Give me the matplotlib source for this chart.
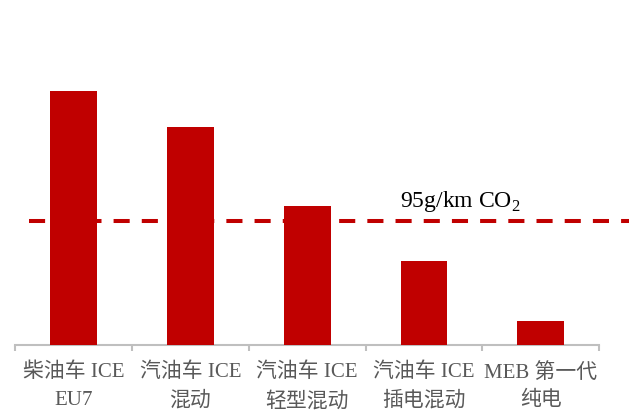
import matplotlib
matplotlib.use("Agg")
import matplotlib.pyplot as plt

plt.rcParams['font.family'] = ['Liberation Serif', 'Noto Sans CJK SC']
plt.rcParams['mathtext.fontset'] = 'custom'
plt.rcParams['mathtext.rm'] = 'Liberation Serif'

# data (g/km CO2)
categories = ['柴油车 ICE\nEU7', '汽油车 ICE\n混动', '汽油车 ICE\n轻型混动',
              '汽油车 ICE\n插电混动', 'MEB 第一代\n纯电']
emissions = [194, 167, 106, 64, 18]
target = 95
target_label = '95g/km CO$_\\mathrm{2}$'

RED = '#C00000'
GREY = '#BFBFBF'

fig = plt.figure(figsize=(6.38, 4.12), dpi=100)
ax = fig.add_axes([15 / 638, 67.3 / 412, 584.3 / 638, 344.7 / 412])

x = range(len(categories))
ax.bar(x, emissions, width=0.40, color=RED, zorder=3)

# target line runs a bit past the axis on the right
ax.plot([-0.383, 4.75], [target, target], color=RED, lw=2.9,
        dashes=(4.0, 3.0), clip_on=False, zorder=2)
ax.text(2.793, 105.4, target_label, fontsize=17, color='black',
        va='baseline', ha='left')

ax.set_xlim(-0.5, 4.5)
ax.set_ylim(0, 264)

for side in ['top', 'right', 'left']:
    ax.spines[side].set_visible(False)
ax.spines['bottom'].set_color(GREY)
ax.spines['bottom'].set_linewidth(1.5)
ax.set_yticks([])

ax.set_xticks(list(x))
ax.set_xticklabels(categories, fontsize=15, color='#595959', linespacing=1.6)
ax.tick_params(axis='x', which='major', length=0, pad=13)
ax.set_xticks([i - 0.5 for i in range(len(categories) + 1)], minor=True)
ax.tick_params(axis='x', which='minor', length=4.5, width=1.5, color=GREY)

fig.savefig('out.png', dpi=100)
